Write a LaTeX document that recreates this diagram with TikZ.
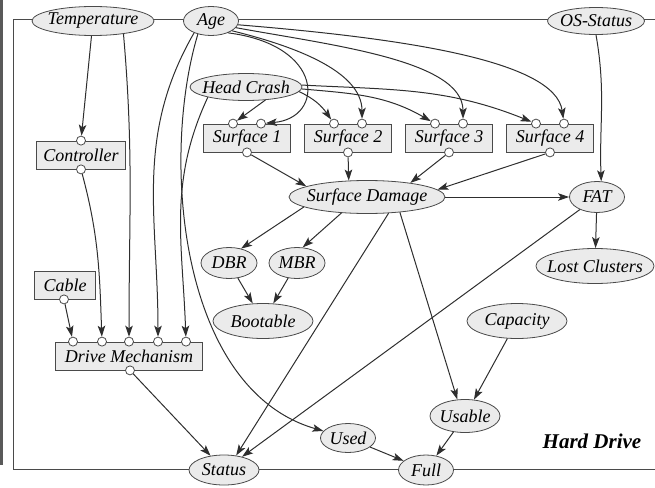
\documentclass[tikz,border=0pt]{standalone}
\usepackage{fontspec}
\setmainfont{Liberation Serif}
\newfontfamily\lblfont{Liberation Serif Italic}
\newfontfamily\ttlfont{Liberation Serif Bold Italic}
\usetikzlibrary{shapes.geometric,arrows.meta}
\definecolor{nodefill}{HTML}{EBEBEB}
\definecolor{edgecol}{HTML}{2E2E2E}
\definecolor{rimcol}{HTML}{4A4A4A}
\begin{document}
\begin{tikzpicture}[x=1pt, y=1pt, >={Stealth[length=11pt,width=7.5pt,inset=2.5pt]}]

\tikzstyle{var}=[ellipse, draw=rimcol, fill=nodefill, line width=0.8pt, inner xsep=-6pt, inner ysep=-3pt, font=\lblfont\fontsize{18}{20}\selectfont]
\tikzstyle{inst}=[rectangle, draw=rimcol, fill=nodefill, line width=0.8pt, minimum height=28pt, inner xsep=0pt, font=\lblfont\fontsize{18}{20}\selectfont]
\tikzstyle{port}=[circle, draw=rimcol, fill=white, line width=0.8pt, inner sep=0pt, minimum size=9pt]
\tikzstyle{arrow}=[->, line width=1pt, draw=edgecol]

\useasboundingbox (0,0) rectangle (655,-487);

% --- class frame ---
\fill[black!65] (0,0) rectangle (3,-465);
\draw[rimcol, line width=1pt] (655,-20) -- (13,-20) -- (13,-469) -- (655,-469);
\node[font=\ttlfont\fontsize{21}{24}\selectfont] (title) at (592,-441) {Hard Drive};

% --- input nodes on the frame ---
\node[var, minimum width=122pt, minimum height=29pt] (temp) at (93,-21) {Temperature};
\node[var, minimum width=55pt, minimum height=29pt] (age) at (211,-21) {Age};
\node[var, minimum width=97pt, minimum height=27pt] (os) at (596,-21) {OS-Status};

% --- output nodes on the frame ---
\node[var, minimum width=70pt, minimum height=30pt] (status) at (224,-470) {Status};
\node[var, minimum width=55pt, minimum height=30pt] (full) at (426,-470) {Full};

% --- instance nodes ---
\node[inst, minimum width=89pt] (ctrl) at (81,-155) {Controller};
\node[inst, minimum width=61pt] (cable) at (65,-285) {Cable};
\node[inst, minimum width=147pt] (drive) at (129,-356) {Drive Mechanism};
\node[inst, minimum width=87pt] (s1) at (247,-138) {Surface 1};
\node[inst, minimum width=87pt] (s2) at (348,-138) {Surface 2};
\node[inst, minimum width=87pt] (s3) at (449,-138) {Surface 3};
\node[inst, minimum width=87pt] (s4) at (550,-138) {Surface 4};

% --- ports ---
\node[port] (ct) at (ctrl.north) {};
\node[port] (cb) at (ctrl.south) {};
\node[port] (cbb) at ([xshift=-1pt]cable.south) {};
\node[port] (dp1) at ([xshift=-56pt]drive.north) {};
\node[port] (dp2) at ([xshift=-27pt]drive.north) {};
\node[port] (dp3) at (drive.north) {};
\node[port] (dp4) at ([xshift=29pt]drive.north) {};
\node[port] (dp5) at ([xshift=57pt]drive.north) {};
\node[port] (db) at ([xshift=1pt]drive.south) {};
\node[port] (s1a) at ([xshift=-14pt]s1.north) {};
\node[port] (s1b) at ([xshift=14pt]s1.north) {};
\node[port] (s1c) at (s1.south) {};
\node[port] (s2a) at ([xshift=-14pt]s2.north) {};
\node[port] (s2b) at ([xshift=14pt]s2.north) {};
\node[port] (s2c) at (s2.south) {};
\node[port] (s3a) at ([xshift=-14pt]s3.north) {};
\node[port] (s3b) at ([xshift=14pt]s3.north) {};
\node[port] (s3c) at (s3.south) {};
\node[port] (s4a) at ([xshift=-14pt]s4.north) {};
\node[port] (s4b) at ([xshift=14pt]s4.north) {};
\node[port] (s4c) at (s4.south) {};

% --- chance nodes ---
\node[var, minimum width=112pt, minimum height=27pt] (hc) at (246,-87) {Head Crash};
\node[var, minimum width=156pt, minimum height=33pt] (sd) at (367,-197) {Surface Damage};
\node[var, minimum width=55pt, minimum height=31pt] (fat) at (597,-197) {FAT};
\node[var, minimum width=118pt, minimum height=35pt] (lost) at (595,-266) {Lost Clusters};
\node[var, minimum width=56pt, minimum height=31pt] (dbr) at (229,-263) {DBR};
\node[var, minimum width=56pt, minimum height=31pt] (mbr) at (297,-263) {MBR};
\node[var, minimum width=100pt, minimum height=35pt] (boot) at (263,-321) {Bootable};
\node[var, minimum width=100pt, minimum height=35pt] (cap) at (517,-321) {Capacity};
\node[var, minimum width=70pt, minimum height=33pt] (usable) at (465,-416) {Usable};
\node[var, minimum width=55pt, minimum height=29pt] (used) at (348,-438) {Used};

% --- drive mechanism inputs ---
\draw[arrow] (temp) -- (ct);
\draw[arrow] (temp.-23) to[out=-85,in=90] (dp3);
\draw[arrow] (cb) to[out=-75,in=92] (dp2);
\draw[arrow] (cbb) -- (dp1);
\draw[arrow] (age.-145) to[out=-120,in=90] (dp4);
\draw[arrow] (hc.-165) to[out=-115,in=92] (dp5);
\draw[arrow] (age.-135) .. controls (160,-160) and (180,-390) .. (used);

% --- surfaces ---
\draw[arrow] (age.-35) .. controls (325,-45) and (325,-118) .. (s1b);
\draw[arrow] (age.-25) .. controls (290,-45) and (362,-70) .. (s2b);
\draw[arrow] (age.-15) .. controls (330,-45) and (463,-60) .. (s3b);
\draw[arrow] (age.-8) .. controls (400,-38) and (555,-60) .. (s4b);
\draw[arrow] (hc.-34) -- (s1a);
\draw[arrow] (hc.-5) to[out=-25,in=125] (s2a);
\draw[arrow] (hc.-2) to[out=-5,in=150] (s3a);
\draw[arrow] (hc.2) to[out=-3,in=158] (s4a);
\draw[arrow] (s1c) -- (sd.170);
\draw[arrow] (s2c) -- (sd.138);
\draw[arrow] (s3c) -- (sd.18);
\draw[arrow] (s4c) -- (sd.6);

% --- damage and file system ---
\draw[arrow] (os.south) to[out=-80,in=92] (fat.75);
\draw[arrow] (sd) -- (fat);
\draw[arrow] (fat) -- (lost);
\draw[arrow] (fat) -- (status);
\draw[arrow] (sd.189) -- (dbr.50);
\draw[arrow] (sd.-148) -- (mbr.70);
\draw[arrow] (dbr) -- (boot);
\draw[arrow] (mbr) -- (boot);
\draw[arrow] (sd.-37) -- (status.50);
\draw[arrow] (sd.-25) -- (usable.115);
\draw[arrow] (cap) -- (usable);
\draw[arrow] (usable) -- (full);
\draw[arrow] (used) -- (full);
\draw[arrow] (db) -- (status);

\end{tikzpicture}
\end{document}
